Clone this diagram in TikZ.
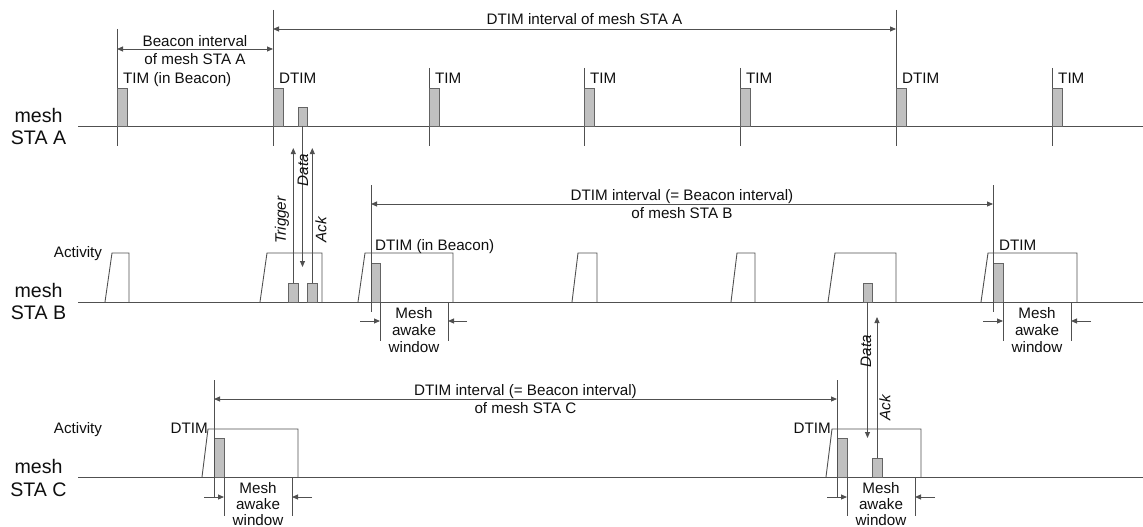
\documentclass[tikz,border=0pt]{standalone}
\usepackage{fontspec}
\setmainfont{Liberation Sans}
\usetikzlibrary{arrows.meta}
\definecolor{lncol}{RGB}{80,80,80}
\definecolor{pktfill}{RGB}{192,192,192}
\definecolor{pktdraw}{RGB}{100,100,100}
\definecolor{txtcol}{RGB}{15,15,15}
\begin{document}
\begin{tikzpicture}[x=1pt,y=-1pt,
  ln/.style={draw=lncol, line width=0.9pt},
  axisline/.style={draw=lncol, line width=1pt},
  pkt/.style={draw=pktdraw, fill=pktfill, line width=0.8pt},
  arr/.style={ln, -{Triangle[length=6pt,width=5pt]}},
  darr/.style={ln, {Triangle[length=6pt,width=5pt]}-{Triangle[length=6pt,width=5pt]}},
  lbl/.style={font=\fontsize{15.2}{18}\selectfont, text=txtcol, inner sep=0pt},
  rlbl/.style={lbl, font=\fontsize{15.2}{18}\selectfont\itshape, rotate=90, anchor=center},
  sta/.style={font=\fontsize{19.6}{23}\selectfont, text=txtcol, inner sep=0pt, anchor=base}
]
\useasboundingbox (0,0) rectangle (1143,527);

% ---------------- station labels
\node[sta] (amesh) at (38.5,122) {mesh};
\node[sta] (asta) at (38.5,144) {STA A};
\node[sta] (bmesh) at (38.5,297) {mesh};
\node[sta] (bsta) at (38.5,319) {STA B};
\node[sta] (cmesh) at (38.5,473) {mesh};
\node[sta] (csta) at (38.5,496) {STA C};

% ---------------- time axes
\coordinate (axA0) at (78,126); \coordinate (axA1) at (1143,126);
\coordinate (axB0) at (78,302); \coordinate (axB1) at (1143,302);
\coordinate (axC0) at (78,477); \coordinate (axC1) at (1143,477);
\draw[axisline] (axA0) -- (axA1);
\draw[axisline] (axB0) -- (axB1);
\draw[axisline] (axC0) -- (axC1);

% ---------------- mesh STA A
\draw[ln] (117,29) -- (117,146);
\draw[ln] (273,10) -- (273,146);
\draw[ln] (896,10) -- (896,146);
\foreach \x in {429,584,740,1052} \draw[ln] (\x,68) -- (\x,146);
\foreach \x in {117,273,429,584,740,896,1052} \draw[pkt] (\x,88) rectangle (\x+10,126);
\draw[pkt] (298,107) rectangle (307,126);

\node[lbl, anchor=base west] (tim0) at (123,84) {TIM (in Beacon)};
\node[lbl, anchor=base west] (dtimA1) at (279,84) {DTIM};
\node[lbl, anchor=base west] (tim1) at (435,84) {TIM};
\node[lbl, anchor=base west] (tim2) at (590,84) {TIM};
\node[lbl, anchor=base west] (tim3) at (746,84) {TIM};
\node[lbl, anchor=base west] (dtimA2) at (902,84) {DTIM};
\node[lbl, anchor=base west] (tim4) at (1058,84) {TIM};

\coordinate (bi0) at (117,49); \coordinate (bi1) at (273,49);
\draw[darr] (bi0) -- (bi1);
\node[lbl, anchor=base] (bitxt1) at (195,46.5) {Beacon interval};
\node[lbl, anchor=base] (bitxt2) at (195,65) {of mesh STA A};

\coordinate (di0) at (273,29); \coordinate (di1) at (896,29);
\draw[darr] (di0) -- (di1);
\node[lbl, anchor=base] (ditxt) at (584.5,25) {DTIM interval of mesh STA A};

% ---------------- mesh STA B
\draw[ln] (105,302) -- (112,253) -- (129,253) -- (129,302);
\draw[ln] (260,302) -- (267,253) -- (322,253) -- (322,302);
\draw[ln] (358,302) -- (365,253) -- (453,253) -- (453,302);
\draw[ln] (572,302) -- (578,253) -- (597,253) -- (597,302);
\draw[ln] (731,302) -- (737,253) -- (755,253) -- (755,302);
\draw[ln] (828,302) -- (835,253) -- (896,253) -- (896,302);
\draw[ln] (981,302) -- (988,253) -- (1077,253) -- (1077,302);

\node[lbl, anchor=base] (actB) at (78,257) {Activity};

\draw[pkt] (288.3,283) rectangle (298.3,302);
\draw[pkt] (307.3,283) rectangle (317.3,302);
\draw[pkt] (371,263) rectangle (380,302);
\draw[pkt] (863,283) rectangle (872,302);
\draw[pkt] (993,263) rectangle (1003,302);

\draw[ln] (371,185) -- (371,312);
\draw[ln] (993,185) -- (993,312);
\coordinate (dbi0) at (371,204); \coordinate (dbi1) at (993,204);
\draw[darr] (dbi0) -- (dbi1);
\node[lbl, anchor=base] (dbtxt1) at (682,200) {DTIM interval (= Beacon interval)};
\node[lbl, anchor=base] (dbtxt2) at (682,218) {of mesh STA B};

\node[lbl, anchor=base west] (dtimB1) at (375,250) {DTIM (in Beacon)};
\node[lbl, anchor=base west] (dtimB2) at (999,250) {DTIM};

% awake windows B
\draw[ln] (380,302) -- (380,341);
\draw[ln] (448,302) -- (448,341);
\draw[arr] (360,321) -- (380,321);
\draw[arr] (467,321) -- (448,321);
\node[lbl, anchor=base] (awB1a) at (414,318) {Mesh};
\node[lbl, anchor=base] (awB1b) at (414,335) {awake};
\node[lbl, anchor=base] (awB1c) at (414,352.5) {window};

\draw[ln] (1003,302) -- (1003,341);
\draw[ln] (1071,302) -- (1071,341);
\draw[arr] (983,321) -- (1003,321);
\draw[arr] (1091,321) -- (1071,321);
\node[lbl, anchor=base] (awB2a) at (1037,318) {Mesh};
\node[lbl, anchor=base] (awB2b) at (1037,335) {awake};
\node[lbl, anchor=base] (awB2c) at (1037,352.5) {window};

% A <-> B frames
\coordinate (dataA) at (302.5,126); \coordinate (dataAB) at (302.5,267);
\draw[arr] (dataA) -- (dataAB);
\coordinate (trigB) at (293.3,283); \coordinate (trigA) at (293.3,148);
\draw[arr] (trigB) -- (trigA);
\coordinate (ackB) at (312.3,283); \coordinate (ackA) at (312.3,148);
\draw[arr] (ackB) -- (ackA);
\node[rlbl] (trigtxt) at (282,220) {Trigger};
\node[rlbl] (datatxt1) at (303,170) {Data};
\node[rlbl] (acktxt1) at (321,230) {Ack};

% ---------------- mesh STA C
\draw[ln] (202,477) -- (208,429) -- (298,429) -- (298,477);
\draw[ln] (826,477) -- (832,429) -- (921,429) -- (921,477);
\node[lbl, anchor=base] (actC) at (78,433.5) {Activity};
\node[lbl, anchor=base east] (dtimC1) at (208,433.5) {DTIM};
\node[lbl, anchor=base east] (dtimC2) at (831,433.5) {DTIM};

\draw[pkt] (214,438) rectangle (224,477);
\draw[pkt] (837,438) rectangle (847,477);
\draw[pkt] (872,458) rectangle (882,477);

\draw[ln] (214,380) -- (214,497);
\draw[ln] (837,380) -- (837,497);
\coordinate (dci0) at (214,399); \coordinate (dci1) at (837,399);
\draw[darr] (dci0) -- (dci1);
\node[lbl, anchor=base] (dctxt1) at (525.5,395) {DTIM interval (= Beacon interval)};
\node[lbl, anchor=base] (dctxt2) at (525.5,413) {of mesh STA C};

% awake windows C
\draw[ln] (224,477) -- (224,516);
\draw[ln] (292,477) -- (292,516);
\draw[arr] (204,497) -- (224,497);
\draw[arr] (312,497) -- (292,497);
\node[lbl, anchor=base] (awC1a) at (258,493) {Mesh};
\node[lbl, anchor=base] (awC1b) at (258,509.5) {awake};
\node[lbl, anchor=base] (awC1c) at (258,525.5) {window};

\draw[ln] (847,477) -- (847,516);
\draw[ln] (915,477) -- (915,516);
\draw[arr] (827,497) -- (847,497);
\draw[arr] (935,497) -- (915,497);
\node[lbl, anchor=base] (awC2a) at (881,493) {Mesh};
\node[lbl, anchor=base] (awC2b) at (881,509.5) {awake};
\node[lbl, anchor=base] (awC2c) at (881,525.5) {window};

% B <-> C frames
\coordinate (dataB) at (867.5,302); \coordinate (dataC) at (867.5,438);
\draw[arr] (dataB) -- (dataC);
\coordinate (ackC) at (877,458); \coordinate (ackBC) at (877,317);
\draw[arr] (ackC) -- (ackBC);
\node[rlbl] (datatxt2) at (866,351) {Data};
\node[rlbl] (acktxt2) at (885,408) {Ack};
\end{tikzpicture}
\end{document}
